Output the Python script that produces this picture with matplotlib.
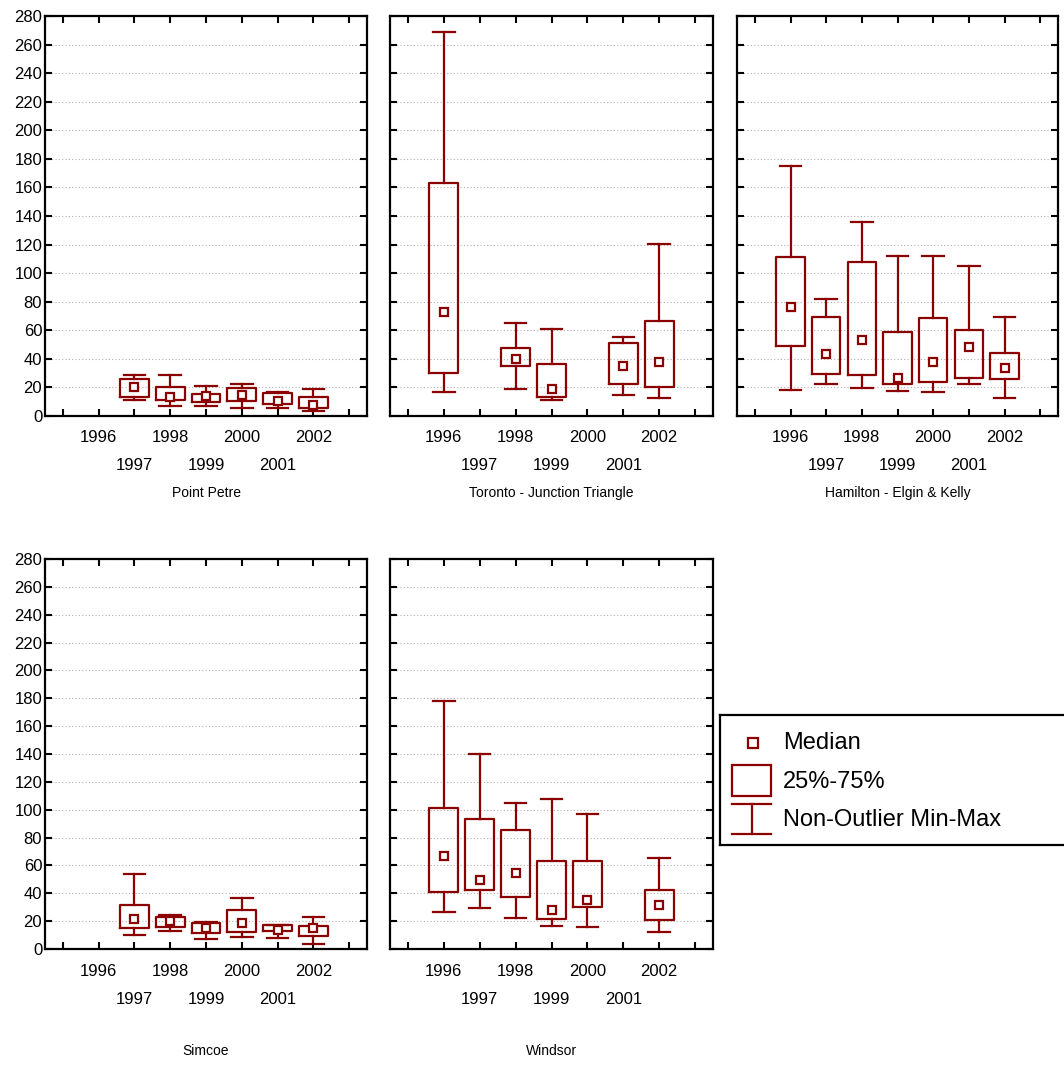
import matplotlib
matplotlib.use("Agg")
import matplotlib.pyplot as plt
from matplotlib.patches import Rectangle
from matplotlib.lines import Line2D
from matplotlib.transforms import blended_transform_factory

plt.rcParams["font.family"] = ["Liberation Sans", "DejaVu Sans"]

RED = "#8b0000"
YEARS = [1996, 1997, 1998, 1999, 2000, 2001, 2002]

# per-station stats: None where a year has no data
# order: whisker min, q25, median, q75, whisker max
pp_min = [None, 11.2, 7.2, 7.0, 5.8, 5.6, 3.5]
pp_q1 = [None, 13.5, 11.2, 9.6, 10.7, 8.2, 5.4]
pp_med = [None, 20.3, 13.5, 14.0, 15.0, 10.5, 7.5]
pp_q3 = [None, 25.9, 20.5, 15.2, 19.8, 16.3, 13.5]
pp_max = [None, 28.7, 28.7, 21.0, 22.4, 17.0, 18.7]

tor_min = [17.0, None, 19.1, 11.0, None, 14.5, 12.6]
tor_q1 = [30.3, None, 35.2, 13.5, None, 22.2, 20.5]
tor_med = [73.0, None, 39.9, 18.7, None, 35.0, 38.0]
tor_q3 = [163.3, None, 47.8, 36.4, None, 51.3, 66.7]
tor_max = [268.6, None, 65.1, 60.7, None, 55.3, 120.2]

ham_min = [18.2, 22.6, 19.4, 17.5, 16.6, 22.2, 12.4]
ham_q1 = [49.0, 29.6, 28.7, 22.2, 24.0, 26.8, 25.7]
ham_med = [76.5, 43.2, 53.2, 26.8, 38.0, 48.0, 33.4]
ham_q3 = [111.0, 69.5, 107.8, 58.6, 68.8, 60.2, 43.9]
ham_max = [175.0, 81.9, 135.8, 111.8, 112.0, 105.2, 69.3]

sim_min = [None, 9.8, 12.7, 7.2, 8.6, 7.9, 3.6]
sim_q1 = [None, 14.8, 15.6, 11.2, 12.0, 13.2, 9.1]
sim_med = [None, 21.8, 19.9, 15.1, 18.7, 13.9, 15.0]
sim_q3 = [None, 31.4, 23.2, 18.7, 27.8, 17.5, 16.3]
sim_max = [None, 54.1, 24.6, 19.4, 36.6, 17.5, 23.0]

win_min = [26.6, 29.2, 22.0, 16.3, 15.8, None, 12.4]
win_q1 = [40.9, 42.6, 37.1, 21.8, 29.9, None, 21.0]
win_med = [66.5, 49.8, 54.6, 28.2, 34.9, None, 31.8]
win_q3 = [101.5, 93.3, 85.2, 63.2, 63.2, None, 42.6]
win_max = [178.3, 140.2, 104.8, 107.5, 97.2, None, 65.6]

stations = [
    ("Point Petre", pp_min, pp_q1, pp_med, pp_q3, pp_max),
    ("Toronto - Junction Triangle", tor_min, tor_q1, tor_med, tor_q3, tor_max),
    ("Hamilton - Elgin & Kelly", ham_min, ham_q1, ham_med, ham_q3, ham_max),
    ("Simcoe", sim_min, sim_q1, sim_med, sim_q3, sim_max),
    ("Windsor", win_min, win_q1, win_med, win_q3, win_max),
]

W, H = 1064, 1076
fig = plt.figure(figsize=(W / 100, H / 100), dpi=100)


def px_axes(x0, y0, x1, y1):
    return fig.add_axes([x0 / W, 1 - y1 / H, (x1 - x0) / W, (y1 - y0) / H])


# axes boxes in pixels, plus how far below each the station name sits
boxes_px = [(45, 16, 367, 416), (390, 16, 713, 416), (737, 16, 1058, 416),
            (45, 559, 367, 949), (390, 559, 713, 949)]
name_off = [77, 77, 77, 102, 102]

for i, (name, lo, q1, med, q3, hi) in enumerate(stations):
    ax = px_axes(*boxes_px[i])
    stats, pos, meds = [], [], []
    for yr, a, b, m, c, d in zip(YEARS, lo, q1, med, q3, hi):
        if m is None:
            continue
        stats.append(dict(whislo=a, q1=b, med=m, q3=c, whishi=d, fliers=[]))
        pos.append(yr)
        meds.append(m)
    ax.bxp(stats, positions=pos, widths=0.8, capwidths=0.6, showfliers=False,
           manage_ticks=False,
           boxprops=dict(color=RED, lw=1.6),
           whiskerprops=dict(color=RED, lw=1.6),
           capprops=dict(color=RED, lw=1.6),
           medianprops=dict(lw=0))
    ax.plot(pos, meds, "s", ms=5.5, mfc="white", mec=RED, mew=1.6, ls="none", zorder=5)

    ax.set_xlim(1994.5, 2003.5)
    ax.set_ylim(0, 280)
    ax.set_yticks(range(0, 281, 20))
    ax.set_xticks(range(1995, 2004))
    ax.set_xticklabels([])
    ax.yaxis.grid(True, ls=(0, (1, 2)), color="#b0b0b0", lw=0.8)
    ax.tick_params(direction="in", length=5, width=1.5, top=True, right=True,
                   labelsize=12, pad=2)
    if i not in (0, 3):
        ax.set_yticklabels([])
    for s in ax.spines.values():
        s.set_linewidth(1.6)

    tr = blended_transform_factory(ax.transData, ax.transAxes)
    axh = boxes_px[i][3] - boxes_px[i][1]
    for yr in YEARS:
        off = 22 if yr % 2 == 0 else 50
        ax.text(yr, -off / axh, str(yr), transform=tr, ha="center", va="center",
                fontsize=12)
    ax.text(0.5, -name_off[i] / axh, name, transform=ax.transAxes, ha="center",
            va="center", fontsize=10)

# legend panel
lg = px_axes(720, 715, 1075, 845)
lg.set_xlim(720, 1075)
lg.set_ylim(845, 715)
lg.set_xticks([])
lg.set_yticks([])
for s in lg.spines.values():
    s.set_linewidth(1.6)
lg.plot([753], [743], "s", ms=7, mfc="white", mec=RED, mew=1.6)
lg.add_patch(Rectangle((732, 765), 39, 31, fill=False, ec=RED, lw=1.6))
lg.add_line(Line2D([732, 771], [804, 804], color=RED, lw=1.6))
lg.add_line(Line2D([732, 771], [834, 834], color=RED, lw=1.6))
lg.add_line(Line2D([751.5, 751.5], [804, 834], color=RED, lw=1.6))
for y, t in [(743, "Median"), (782, "25%-75%"), (820, "Non-Outlier Min-Max")]:
    lg.text(783, y, t, ha="left", va="center", fontsize=17)

fig.savefig("out.png", dpi=100)
